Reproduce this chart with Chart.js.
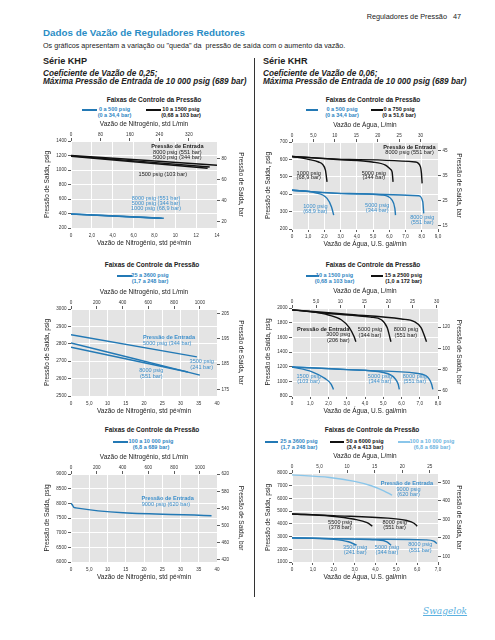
<html>
<head>
<meta charset="utf-8">
<script src="https://cdn.jsdelivr.net/npm/chart.js"></script>
<style>
body { margin:0; background:#fff; font-family:"Liberation Sans", Arial, sans-serif; color:#222; }
#page { position:relative; width:495px; height:640px; overflow:hidden; background:#fff; }
.t { position:absolute; white-space:nowrap; line-height:1; }
canvas { position:absolute; }
.seg { position:absolute; height:2px; }
.lg { position:absolute; white-space:nowrap; font-weight:bold; font-size:5.5px; line-height:5.8px; text-align:center; transform:translateX(-50%); }
.ct { position:absolute; white-space:nowrap; font-weight:bold; font-size:6.5px; line-height:1; transform:translateX(-50%); }
</style>
</head>
<body>
<div id="page">
  <div class="t" style="right:48px; top:13px; font-size:7.3px">Reguladores de Pressão</div>
  <div class="t" style="left:453px; top:13px; font-size:7.3px">47</div>
  <div class="t" style="left:43px; top:28px; font-size:9.8px; font-weight:bold; color:#2a8dc5">Dados de Vazão de Reguladores Redutores</div>
  <div class="t" style="left:43px; top:42px; font-size:7.2px">Os gráficos apresentam a variação ou "queda" da&nbsp; pressão de saída com o aumento da vazão.</div>

  <div class="t" style="left:43px; top:57px; font-size:9.1px; font-weight:bold">Série KHP</div>
  <div class="t" style="left:43px; top:70px; font-size:8.2px; font-weight:bold; font-style:italic">Coeficiente de Vazão de 0,25;</div>
  <div class="t" style="left:43px; top:78px; font-size:8.2px; font-weight:bold; font-style:italic">Máxima Pressão de Entrada de 10 000 psig (689 bar)</div>

  <div class="t" style="left:263px; top:57px; font-size:9.1px; font-weight:bold">Série KHR</div>
  <div class="t" style="left:263px; top:70px; font-size:8.2px; font-weight:bold; font-style:italic">Coeficiente de Vazão de 0,06;</div>
  <div class="t" style="left:263px; top:78px; font-size:8.2px; font-weight:bold; font-style:italic">Máxima Pressão de Entrada de 10 000 psig (689 bar)</div>

  <div style="position:absolute; left:254px; top:58px; width:1px; height:539px; background:#333"></div>

  <!-- KHP 1 -->
  <div class="ct" style="left:154px; top:97px">Faixas de Controle da Pressão</div>
  <div class="seg" style="left:82px; top:109px; width:15px; background:#2379b5"></div>
  <div class="lg" style="left:114.5px; top:107px; color:#2f86c3">0 a 500 psig<br>(0 a 34,4 bar)</div>
  <div class="seg" style="left:146px; top:109px; width:15px; background:#111"></div>
  <div class="lg" style="left:181px; top:107px; color:#111">10 a 1500 psig<br>(0,68 a 103 bar)</div>
  <canvas id="c1" width="202" height="127" style="left:43px; top:120px"></canvas>

  <!-- KHP 2 -->
  <div class="ct" style="left:152px; top:262px">Faixas de Controle da Pressão</div>
  <div class="seg" style="left:117px; top:275px; width:15px; background:#2379b5"></div>
  <div class="lg" style="left:150px; top:273px; color:#2f86c3">25 a 3600 psig<br>(1,7 a 248 bar)</div>
  <canvas id="c2" width="202" height="127" style="left:43px; top:288px"></canvas>

  <!-- KHP 3 -->
  <div class="ct" style="left:152px; top:427px">Faixas de Controle da Pressão</div>
  <div class="seg" style="left:113px; top:441px; width:15px; background:#2379b5"></div>
  <div class="lg" style="left:151px; top:439px; color:#2f86c3">100 a 10 000 psig<br>(6,8 a 689 bar)</div>
  <canvas id="c3" width="202" height="128" style="left:43px; top:453px"></canvas>

  <!-- KHR 1 -->
  <div class="ct" style="left:373px; top:97px">Faixas de Controle da Pressão</div>
  <div class="seg" style="left:306px; top:109px; width:12px; background:#2379b5"></div>
  <div class="lg" style="left:342px; top:107px; color:#2f86c3">0 a 500 psig<br>(0 a 34,4 bar)</div>
  <div class="seg" style="left:371px; top:109px; width:12px; background:#111"></div>
  <div class="lg" style="left:399px; top:107px; color:#111">0 a 750 psig<br>(0 a 51,6 bar)</div>
  <canvas id="c4" width="199" height="127" style="left:264px; top:121px"></canvas>

  <!-- KHR 2 -->
  <div class="ct" style="left:373px; top:262px">Faixas de Controle da Pressão</div>
  <div class="seg" style="left:306px; top:275px; width:13px; background:#2379b5"></div>
  <div class="lg" style="left:334.5px; top:273px; color:#2f86c3">10 a 1500 psig<br>(0,68 a 103 bar)</div>
  <div class="seg" style="left:371px; top:275px; width:12px; background:#111"></div>
  <div class="lg" style="left:403.5px; top:273px; color:#111">15 a 2500 psig<br>(1,0 a 172 bar)</div>
  <canvas id="c5" width="199" height="128" style="left:264px; top:287px"></canvas>

  <!-- KHR 3 -->
  <div class="ct" style="left:372px; top:427px">Faixas de Controle da Pressão</div>
  <div class="seg" style="left:265px; top:441px; width:13px; background:#2379b5"></div>
  <div class="lg" style="left:299px; top:439px; color:#2f86c3">25 a 3600 psig<br>(1,7 a 248 bar)</div>
  <div class="seg" style="left:330px; top:441px; width:14px; background:#111"></div>
  <div class="lg" style="left:365px; top:439px; color:#111">50 a 6000 psig<br>(3,4 a 413 bar)</div>
  <div class="seg" style="left:398px; top:441px; width:12px; background:#8ac6ea"></div>
  <div class="lg" style="left:432px; top:439px; color:#6cb4e0">100 a 10 000 psig<br>(6,8 a 689 bar)</div>
  <canvas id="c6" width="199" height="129" style="left:264px; top:452px"></canvas>

  <div class="t" style="left:423px; top:607px; font-size:9px; font-style:italic; font-family:'DejaVu Serif', serif; color:#5bb1e0; text-decoration:underline">Swagelok</div>
</div>

<script>
Chart.defaults.font.family = '"Liberation Sans", Arial, sans-serif'
Chart.defaults.font.size = 4.6
Chart.defaults.color = '#333'

PSI_BAR = 14.5038
L_CFM = 28.3168
L_GAL = 3.78541

BLUE = '#2379b5'
BLACK = '#111'
LIGHT = '#8ac6ea'
NOTE_BLUE = '#3d8fcb'

// ---------- KHP 1 ----------
khp1Cfm = [0, 2, 4, 6, 8, 10, 12, 14]
khp1CfmLbl = ['0', '2,0', '4,0', '6,0', '8,0', '10', '12', '14']
khp1Lmin = [0, 80, 160, 240, 320]
khp1Psig = [200, 400, 600, 800, 1000, 1200, 1400]
khp1Bar = [20, 40, 60, 80]
khp1Black8000 = [[0, 1200], [14, 1066]]
khp1Black5000 = [[0, 1195], [13.3, 1042]]
khp1Black1500 = [[0, 1190], [13.1, 1025]]
khp1Blue8000 = [[0, 395], [8.9, 335]]
khp1Blue5000 = [[0, 393], [8.7, 334]]
khp1Blue1000 = [[0, 392], [8.5, 335]]

// ---------- KHP 2 ----------
khp2Cfm = [0, 5, 10, 15, 20, 25, 30, 35, 40]
khp2CfmLbl = ['0', '5,0', '10', '15', '20', '25', '30', '35', '40']
khp2Lmin = [0, 200, 400, 600, 800, 1000]
khp2Psig = [2500, 2600, 2700, 2800, 2900, 3000]
khp2Bar = [175, 185, 195, 205]
khp2Line5000 = [[0, 2852], [34.5, 2725]]
khp2Line3500 = [[0, 2805], [35.3, 2620]]
khp2Line8000 = [[0, 2780], [32, 2638]]

// ---------- KHP 3 ----------
khp3Psig = [6000, 6500, 7000, 7500, 8000, 8500, 9000]
khp3Bar = [420, 460, 500, 540, 580, 620]
khp3Line9000 = [[0, 8000], [0.3, 7960], [0.75, 7868], [1.3, 7845], [38.5, 7580]]

// ---------- KHR 1 ----------
khr1Gal = [0, 1, 2, 3, 4, 5, 6, 7, 8, 9]
khr1GalLbl = ['0', '1,0', '2,0', '3,0', '4,0', '5,0', '6,0', '7,0', '8,0', '9,0']
khrLmin = [0, 5, 10, 15, 20, 25, 30]
khrLminLbl = ['0', '5,0', '10', '15', '20', '25', '30']
khr1Psig = [200, 300, 400, 500, 600, 700]
khr1Bar = [15, 25, 35, 45]
khr1Black1000 = [[0, 617], [1.0, 600], [1.64, 585], [1.9, 570], [2.06, 538], [2.16, 471]]
khr1Black5000 = [[0, 617], [3.0, 598], [4.94, 585], [5.76, 567], [6.05, 545], [6.17, 528], [6.23, 471]]
khr1Black8000 = [[0, 617], [3.5, 600], [7.6, 585], [7.92, 557], [7.98, 520], [8.02, 462]]
khr1Blue1000 = [[0, 423], [1.44, 408], [2.16, 376], [2.43, 328], [2.57, 280]]
khr1Blue5000 = [[0, 423], [3.0, 405], [5.55, 395], [6.17, 366], [6.34, 319], [6.38, 280]]
khr1Blue8000 = [[0, 423], [3.5, 403], [7.8, 391], [8.06, 357], [8.12, 290]]

// ---------- KHR 2 ----------
khr2Gal = [0, 1, 2, 3, 4, 5, 6, 7, 8]
khr2GalLbl = ['0', '1,0', '2,0', '3,0', '4,0', '5,0', '6,0', '7,0', '8,0']
khr2Psig = [800, 1000, 1200, 1400, 1600, 1800, 2000]
khr2Bar = [60, 80, 100, 120]
khr2Black3000 = [[0, 1975], [1.0, 1950], [2.0, 1905], [2.7, 1840], [3.15, 1730], [3.4, 1610], [3.5, 1540]]
khr2Black5000 = [[0, 1975], [2.0, 1925], [4.3, 1875], [4.9, 1840], [5.22, 1730], [5.35, 1610], [5.42, 1540]]
khr2Black8000 = [[0, 1975], [3.0, 1915], [6.0, 1850], [6.7, 1815], [7.08, 1730], [7.27, 1610], [7.37, 1540]]
khr2Blue1500 = [[0, 1195], [1.1, 1130], [1.8, 1040], [2.15, 960], [2.27, 890]]
khr2Blue5000 = [[0, 1195], [3.0, 1160], [5.0, 1120], [5.45, 1080], [5.65, 1035], [5.82, 960], [5.88, 890]]
khr2Blue8000 = [[0, 1195], [4.0, 1150], [6.8, 1110], [7.3, 1080], [7.52, 1030], [7.65, 960], [7.72, 890]]

// ---------- KHR 3 ----------
khr3Gal = [0, 1, 2, 3, 4, 5, 6, 7]
khr3GalLbl = ['0', '1,0', '2,0', '3,0', '4,0', '5,0', '6,0', '7,0']
khr3Lmin = [0, 5, 10, 15, 20, 25]
khr3LminLbl = ['0', '5,0', '10', '15', '20', '25']
khr3Psig = [1000, 2000, 3000, 4000, 5000, 6000, 7000, 8000]
khr3Bar = [100, 200, 300, 400, 500]
khr3Light9000 = [[0, 7850], [1.8, 7650], [3.0, 7340], [3.8, 7000], [4.4, 6600], [4.8, 6250]]
khr3Black5500 = [[0, 4780], [1.8, 4620], [3.0, 4360], [3.6, 4090], [3.85, 3820]]
khr3Black8000 = [[0, 4780], [2.0, 4650], [4.6, 4450], [5.5, 4260], [5.85, 4050], [6.0, 3820]]
khr3Blue3500 = [[0, 2900], [2.0, 2780], [2.7, 2590], [3.1, 2320]]
khr3Blue5000 = [[0, 2900], [3.0, 2800], [4.0, 2740], [4.55, 2590], [4.75, 2320]]
khr3Blue8000 = [[0, 2900], [4.0, 2790], [6.4, 2740], [6.8, 2640], [6.95, 2450]]

// fundo cinza da área do gráfico
bgPlugin = {
  id: 'bg',
  beforeDraw(c) {
    const a = c.chartArea
    c.ctx.save()
    c.ctx.fillStyle = '#e4e4e4'
    c.ctx.fillRect(a.left, a.top, a.right - a.left, a.bottom - a.top)
    c.ctx.restore()
  }
}

function fixed(vals) {
  return s => { s.ticks = vals.map(v => ({ value: v })) }
}

function makeChart(id, o) {
  const notes = o.notes || []
  new Chart(document.getElementById(id), {
    type: 'line',
    data: {
      datasets: o.series.map(s => ({
        data: s[0], borderColor: s[1], borderWidth: s[2] || 1.4,
        pointRadius: 0, fill: false, cubicInterpolationMode: 'monotone'
      }))
    },
    options: {
      responsive: false, animation: false, events: [],
      layout: { padding: 0 },
      plugins: { legend: { display: false }, tooltip: { enabled: false } },
      scales: {
        x: {
          type: 'linear', position: 'bottom', min: 0, max: o.xMax,
          afterBuildTicks: fixed(o.bottom), afterFit: s => { s.height = 19 },
          ticks: { callback: (v, i) => o.bottomLbl[i], autoSkip: false, maxRotation: 0, padding: o.botTicks ? 1.5 : 4.5 },
          grid: { color: '#fff', lineWidth: 1, drawTicks: o.botTicks, tickLength: 3, tickColor: '#333', tickWidth: 0.8 },
          border: { display: false },
          title: { display: true, text: o.bottomTitle, padding: 0, color: '#222', font: { size: 6.5 } }
        },
        x2: {
          type: 'linear', position: 'top', min: 0, max: o.xMax * o.factor,
          afterBuildTicks: fixed(o.top), afterFit: s => { s.height = 21 },
          ticks: { callback: (v, i) => o.topLbl[i], autoSkip: false, maxRotation: 0, padding: 1 },
          grid: { drawOnChartArea: false, tickLength: 3, tickColor: '#333', tickWidth: 0.8 },
          border: { display: false },
          title: { display: true, text: o.topTitle, padding: 0, color: '#222', font: { size: 6.5 } }
        },
        y: {
          type: 'linear', position: 'left', min: o.left[0], max: o.left[o.left.length - 1],
          afterBuildTicks: fixed(o.left), afterFit: s => { s.width = o.leftW },
          ticks: { autoSkip: false, padding: 1.5, callback: v => String(v) },
          grid: { color: '#fff', lineWidth: 1, tickLength: 3, tickColor: '#333', tickWidth: 0.8 },
          border: { display: false },
          title: { display: true, text: 'Pressão de Saída, psig', padding: 0, color: '#222', font: { size: 6.5 } }
        },
        y2: {
          type: 'linear', position: 'right',
          min: o.left[0] / PSI_BAR, max: o.left[o.left.length - 1] / PSI_BAR,
          afterBuildTicks: fixed(o.right), afterFit: s => { s.width = o.rightW },
          ticks: { autoSkip: false, padding: 1.5, callback: v => String(v) },
          grid: { drawOnChartArea: false, tickLength: 3, tickColor: '#333', tickWidth: 0.8 },
          border: { display: false },
          title: { display: true, text: 'Pressão de Saída, bar', padding: 0, color: '#222', font: { size: 6.5 } }
        }
      }
    },
    plugins: [bgPlugin, {
      id: 'notes',
      afterDatasetsDraw(c) {
        const ctx = c.ctx
        ctx.save()
        ctx.textBaseline = 'middle'
        notes.forEach(n => {
          ctx.font = (n.b ? 'bold ' : '') + '5.6px "Liberation Sans", Arial, sans-serif'
          ctx.fillStyle = n.c || '#222'
          ctx.textAlign = n.a || 'center'
          ctx.fillText(n.t, c.scales.x.getPixelForValue(n.x), c.scales.y.getPixelForValue(n.y))
        })
        ctx.restore()
      }
    }]
  })
}

makeChart('c1', {
  xMax: 14, factor: L_CFM, leftW: 28, rightW: 28, botTicks: false,
  bottom: khp1Cfm, bottomLbl: khp1CfmLbl, top: khp1Lmin, topLbl: khp1Lmin.map(String),
  left: khp1Psig, right: khp1Bar,
  bottomTitle: 'Vazão de Nitrogênio, std pé³/min', topTitle: 'Vazão de Nitrogênio, std L/min',
  series: [
    [khp1Black8000, BLACK, 1.5], [khp1Black5000, BLACK, 1.4], [khp1Black1500, BLACK, 1.4],
    [khp1Blue8000, BLUE], [khp1Blue5000, BLUE], [khp1Blue1000, BLUE]
  ],
  notes: [
    { x: 10.2, y: 1321, t: 'Pressão de Entrada', b: 1 },
    { x: 10.2, y: 1244, t: '8000 psig (551 bar)' },
    { x: 10.2, y: 1169, t: '5000 psig (344 bar)' },
    { x: 8.8, y: 940, t: '1500 psig (103 bar)' },
    { x: 8.15, y: 610, t: '8000 psig (551 bar)', c: NOTE_BLUE },
    { x: 8.15, y: 541, t: '5000 psig (344 bar)', c: NOTE_BLUE },
    { x: 8.15, y: 472, t: '1000 psig (68,9 bar)', c: NOTE_BLUE }
  ]
})

makeChart('c2', {
  xMax: 40, factor: L_CFM, leftW: 28, rightW: 28, botTicks: false,
  bottom: khp2Cfm, bottomLbl: khp2CfmLbl, top: khp2Lmin, topLbl: khp2Lmin.map(String),
  left: khp2Psig, right: khp2Bar,
  bottomTitle: 'Vazão de Nitrogênio, std pé³/min', topTitle: 'Vazão de Nitrogênio, std L/min',
  series: [[khp2Line5000, BLUE], [khp2Line3500, BLUE], [khp2Line8000, BLUE]],
  notes: [
    { x: 19.7, y: 2836, t: 'Pressão de Entrada', b: 1, a: 'left', c: NOTE_BLUE },
    { x: 19.7, y: 2804, t: '5000 psig (344 bar)', a: 'left', c: NOTE_BLUE },
    { x: 35.8, y: 2697, t: '3500 psig', c: NOTE_BLUE },
    { x: 35.8, y: 2665, t: '(241 bar)', c: NOTE_BLUE },
    { x: 22.0, y: 2644, t: '8000 psig', c: NOTE_BLUE },
    { x: 22.0, y: 2614, t: '(551 bar)', c: NOTE_BLUE }
  ]
})

makeChart('c3', {
  xMax: 40, factor: L_CFM, leftW: 28, rightW: 28, botTicks: false,
  bottom: khp2Cfm, bottomLbl: khp2CfmLbl, top: khp2Lmin, topLbl: khp2Lmin.map(String),
  left: khp3Psig, right: khp3Bar,
  bottomTitle: 'Vazão de Nitrogênio, std pé³/min', topTitle: 'Vazão de Nitrogênio, std L/min',
  series: [[khp3Line9000, BLUE, 1.5]],
  notes: [
    { x: 26.5, y: 8168, t: 'Pressão de Entrada', b: 1, c: NOTE_BLUE },
    { x: 26.0, y: 7973, t: '9000 psig (620 bar)', c: NOTE_BLUE }
  ]
})

makeChart('c4', {
  xMax: 9, factor: L_GAL, leftW: 28, rightW: 25, botTicks: true,
  bottom: khr1Gal, bottomLbl: khr1GalLbl, top: khrLmin, topLbl: khrLminLbl,
  left: khr1Psig, right: khr1Bar,
  bottomTitle: 'Vazão de Água, U.S. gal/min', topTitle: 'Vazão de Água, L/min',
  series: [
    [khr1Black1000, BLACK], [khr1Black5000, BLACK], [khr1Black8000, BLACK],
    [khr1Blue1000, BLUE], [khr1Blue5000, BLUE], [khr1Blue8000, BLUE]
  ],
  notes: [
    { x: 8.85, y: 671, t: 'Pressão de Entrada', b: 1, a: 'right' },
    { x: 8.74, y: 639, t: '8000 psig (551 bar)', a: 'right' },
    { x: 1.03, y: 522, t: '1000 psig' }, { x: 1.03, y: 494, t: '(68,9 bar)' },
    { x: 5.04, y: 522, t: '5000 psig' }, { x: 5.04, y: 494, t: '(344 bar)' },
    { x: 1.44, y: 328, t: '1000 psig', c: NOTE_BLUE }, { x: 1.44, y: 299, t: '(68,9 bar)', c: NOTE_BLUE },
    { x: 5.25, y: 336, t: '5000 psig', c: NOTE_BLUE }, { x: 5.25, y: 307, t: '(344 bar)', c: NOTE_BLUE },
    { x: 8.03, y: 267, t: '8000 psig', c: NOTE_BLUE }, { x: 8.03, y: 238, t: '(551 bar)', c: NOTE_BLUE }
  ]
})

makeChart('c5', {
  xMax: 8, factor: L_GAL, leftW: 28, rightW: 25, botTicks: true,
  bottom: khr2Gal, bottomLbl: khr2GalLbl, top: khrLmin, topLbl: khrLminLbl,
  left: khr2Psig, right: khr2Bar,
  bottomTitle: 'Vazão de Água, U.S. gal/min', topTitle: 'Vazão de Água, L/min',
  series: [
    [khr2Black3000, BLACK], [khr2Black5000, BLACK], [khr2Black8000, BLACK],
    [khr2Blue1500, BLUE], [khr2Blue5000, BLUE], [khr2Blue8000, BLUE]
  ],
  notes: [
    { x: 1.71, y: 1702, t: 'Pressão de Entrada', b: 1 },
    { x: 2.54, y: 1633, t: '3000 psig' }, { x: 2.54, y: 1555, t: '(206 bar)' },
    { x: 4.27, y: 1702, t: '5000 psig' }, { x: 4.27, y: 1624, t: '(344 bar)' },
    { x: 6.24, y: 1702, t: '8000 psig' }, { x: 6.24, y: 1624, t: '(551 bar)' },
    { x: 0.91, y: 1061, t: '1500 psig', c: NOTE_BLUE }, { x: 0.91, y: 992, t: '(103 bar)', c: NOTE_BLUE },
    { x: 4.82, y: 1061, t: '5000 psig', c: NOTE_BLUE }, { x: 4.82, y: 992, t: '(344 bar)', c: NOTE_BLUE },
    { x: 6.73, y: 1061, t: '8000 psig', c: NOTE_BLUE }, { x: 6.73, y: 992, t: '(551 bar)', c: NOTE_BLUE }
  ]
})

makeChart('c6', {
  xMax: 7, factor: L_GAL, leftW: 28, rightW: 25, botTicks: true,
  bottom: khr3Gal, bottomLbl: khr3GalLbl, top: khr3Lmin, topLbl: khr3LminLbl,
  left: khr3Psig, right: khr3Bar,
  bottomTitle: 'Vazão de Água, U.S. gal/min', topTitle: 'Vazão de Água, L/min',
  series: [
    [khr3Light9000, LIGHT], [khr3Black5500, BLACK], [khr3Black8000, BLACK],
    [khr3Blue3500, BLUE], [khr3Blue5000, BLUE], [khr3Blue8000, BLUE]
  ],
  notes: [
    { x: 5.51, y: 7154, t: 'Pressão de Entrada', b: 1, c: NOTE_BLUE },
    { x: 5.59, y: 6734, t: '9000 psig', c: NOTE_BLUE }, { x: 5.59, y: 6338, t: '(620 bar)', c: NOTE_BLUE },
    { x: 2.31, y: 4089, t: '5500 psig' }, { x: 2.31, y: 3724, t: '(378 bar)' },
    { x: 4.92, y: 4089, t: '8000 psig' }, { x: 4.92, y: 3724, t: '(551 bar)' },
    { x: 3.03, y: 2109, t: '3500 psig', c: NOTE_BLUE }, { x: 3.03, y: 1713, t: '(241 bar)', c: NOTE_BLUE },
    { x: 4.55, y: 2109, t: '5000 psig', c: NOTE_BLUE }, { x: 4.55, y: 1713, t: '(344 bar)', c: NOTE_BLUE },
    { x: 6.15, y: 2402, t: '8000 psig', c: NOTE_BLUE }, { x: 6.15, y: 1927, t: '(551 bar)', c: NOTE_BLUE }
  ]
})
</script>
</body>
</html>
